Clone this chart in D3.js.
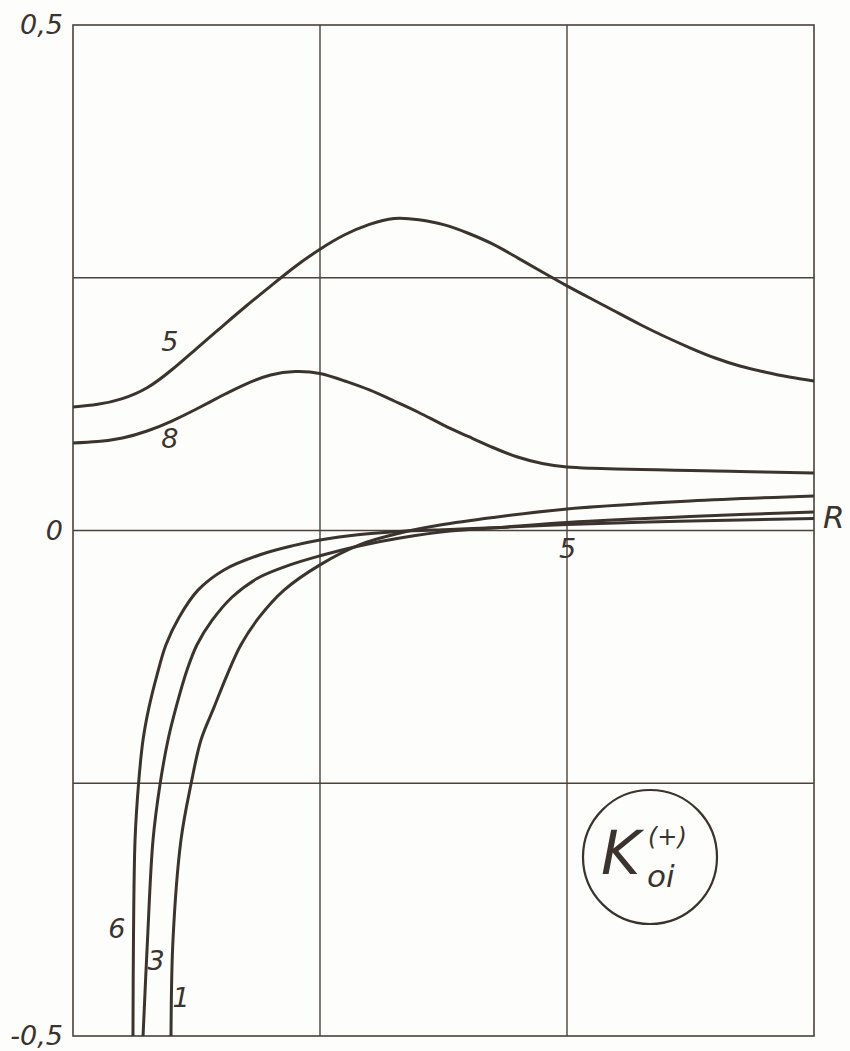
<!DOCTYPE html>
<html>
<head>
<meta charset="utf-8">
<script src="https://cdn.jsdelivr.net/npm/d3@7"></script>
<style>
  html, body { margin: 0; padding: 0; background: #fdfdfb; }
  svg { display: block; }
  text { font-family: "DejaVu Sans", sans-serif; font-style: italic; fill: #3b332d; }
</style>
</head>
<body>
<svg id="chart" width="850" height="1051"></svg>
<script>
// ---- data ----
const yTickValues = [-0.5, 0, 0.5];
const yTickLabels = ["-0,5", "0", "0,5"];
const xTickValues = [5];
const xTickLabels = ["5"];
const xGrid = [2.5, 5];
const yGrid = [-0.25, 0, 0.25];

// curves 5 and 8 share R sampling
const r58 = [0, 0.25, 0.5, 0.75, 1.0, 1.25, 1.5, 1.75, 2.0, 2.25, 2.5, 2.75, 3.0, 3.25, 3.5, 3.75,
             4.0, 4.25, 4.5, 4.75, 5.0, 5.25, 5.5, 5.75, 6.0, 6.25, 6.5, 6.75, 7.0, 7.25, 7.5];
const k5 = [0.1222, 0.1248, 0.1305, 0.1412, 0.1590, 0.1800, 0.2010, 0.2218, 0.2418, 0.2612, 0.2782,
            0.2925, 0.3028, 0.3087, 0.3074, 0.3025, 0.2940, 0.2832, 0.2697, 0.2557, 0.2420, 0.2290,
            0.2161, 0.2033, 0.1914, 0.1805, 0.1706, 0.1627, 0.1568, 0.1518, 0.1479];
const k8 = [0.0865, 0.0880, 0.0915, 0.0984, 0.1083, 0.1202, 0.1330, 0.1449, 0.1538, 0.1573, 0.1553,
            0.1479, 0.1390, 0.1281, 0.1167, 0.1043, 0.0930, 0.0821, 0.0727, 0.0663, 0.0628, 0.0616,
            0.0608, 0.0603, 0.0598, 0.0593, 0.0589, 0.0584, 0.0579, 0.0574, 0.0569];

const r6 = [0.607, 0.612, 0.628, 0.663, 0.709, 0.769, 0.850, 0.941, 1.073, 1.265, 1.528, 1.893, 2.227,
            2.5, 2.905, 3.310, 3.816, 4.322, 5.0, 6.245, 7.5];
const k6 = [-0.5, -0.405, -0.306, -0.251, -0.207, -0.175, -0.143, -0.113, -0.086, -0.059, -0.039, -0.024,
            -0.015, -0.0094, -0.0040, -0.0010, 0.0010, 0.0030, 0.0059, 0.0094, 0.0119];

const r3 = [0.709, 0.754, 0.810, 0.881, 0.962, 1.043, 1.154, 1.255, 1.407, 1.609, 1.872, 2.196, 2.5,
            2.905, 3.310, 3.816, 4.322, 5.0, 6.245, 7.5];
const k3 = [-0.5, -0.405, -0.306, -0.251, -0.207, -0.175, -0.138, -0.113, -0.089, -0.066, -0.047, -0.034,
            -0.025, -0.015, -0.0074, -0.0005, 0.0030, 0.0079, 0.0138, 0.0183];

const r1 = [0.992, 1.012, 1.093, 1.194, 1.296, 1.427, 1.559, 1.700, 1.883, 2.136, 2.5, 2.905, 3.310,
            3.715, 4.251, 5.0, 6.245, 7.5];
const k1 = [-0.5, -0.405, -0.306, -0.251, -0.207, -0.175, -0.143, -0.113, -0.086, -0.059, -0.034, -0.014,
            -0.0025, 0.0054, 0.0129, 0.0213, 0.0292, 0.0341];

const curveNames = ["5", "8", "6", "3", "1"];
const labelR = [0.98, 0.98, 0.445, 0.84, 1.093];
const labelK = [0.1775, 0.0816, -0.403, -0.435, -0.471];

// ---- layout ----
const svg = d3.select("#chart");
const mLeft = 73, mRight = 814, mTop = 25, mBottom = 1036;
const x = d3.scaleLinear().domain([0, 7.5]).range([mLeft, mRight]);
const y = d3.scaleLinear().domain([-0.5, 0.5]).range([mBottom, mTop]);
const ink = "#3b332d";
const gridInk = "#4a423b";

svg.append("rect").attr("width", 850).attr("height", 1051).attr("fill", "#fdfdfb");

svg.append("defs").append("clipPath").attr("id", "clip")
  .append("rect").attr("x", mLeft).attr("y", mTop).attr("width", mRight - mLeft).attr("height", mBottom - mTop);

// grid
svg.append("g").selectAll("line").data(xGrid).join("line")
  .attr("x1", d => x(d)).attr("x2", d => x(d)).attr("y1", mTop).attr("y2", mBottom)
  .attr("stroke", gridInk).attr("stroke-width", 1.4);
svg.append("g").selectAll("line").data(yGrid).join("line")
  .attr("x1", mLeft).attr("x2", mRight).attr("y1", d => y(d)).attr("y2", d => y(d))
  .attr("stroke", gridInk).attr("stroke-width", 1.4);

// frame
svg.append("rect").attr("x", mLeft).attr("y", mTop).attr("width", mRight - mLeft).attr("height", mBottom - mTop)
  .attr("fill", "none").attr("stroke", gridInk).attr("stroke-width", 1.6);

// axes (labels only)
const yAxis = svg.append("g").attr("transform", `translate(${mLeft},0)`)
  .call(d3.axisLeft(y).tickValues(yTickValues).tickSize(0).tickPadding(10)
    .tickFormat((d, i) => yTickLabels[i]));
yAxis.select(".domain").remove();
yAxis.selectAll("text").attr("font-size", 27).attr("fill", ink)
  .style("font-family", '"DejaVu Sans", sans-serif').style("font-style", "italic");

const xAxis = svg.append("g").attr("transform", `translate(0,${y(0)})`)
  .call(d3.axisBottom(x).tickValues(xTickValues).tickSize(0).tickPadding(8)
    .tickFormat((d, i) => xTickLabels[i]));
xAxis.select(".domain").remove();
xAxis.selectAll("text").attr("font-size", 27).attr("fill", ink)
  .style("font-family", '"DejaVu Sans", sans-serif').style("font-style", "italic");

svg.append("text").attr("x", mRight + 9).attr("y", y(0) - 3).attr("font-size", 31).text("R");

// curves
const smoothLine = d3.line().x(d => x(d[0])).y(d => y(d[1])).curve(d3.curveNatural);
const steepLine = d3.line().x(d => x(d[0])).y(d => y(d[1])).curve(d3.curveCatmullRom.alpha(0.5));
const series = [[r58, k5, smoothLine], [r58, k8, smoothLine], [r6, k6, steepLine], [r3, k3, steepLine], [r1, k1, steepLine]];
const g = svg.append("g").attr("clip-path", "url(#clip)");
series.forEach(([rs, ks, gen], i) => {
  g.append("path").datum(rs.map((r, j) => [r, ks[j]]))
    .attr("d", gen).attr("fill", "none").attr("stroke", ink)
    .attr("stroke-width", 3).attr("stroke-linejoin", "round").attr("stroke-linecap", "round")
    .attr("data-name", curveNames[i]);
});

// curve labels
svg.append("g").selectAll("text").data(curveNames).join("text")
  .attr("x", (d, i) => x(labelR[i])).attr("y", (d, i) => y(labelK[i]))
  .attr("text-anchor", "middle").attr("font-size", 27).text(d => d);

// circle legend
svg.append("circle").attr("cx", 650).attr("cy", 857).attr("r", 67)
  .attr("fill", "none").attr("stroke", ink).attr("stroke-width", 2.2);
svg.append("text").attr("x", 601).attr("y", 874).attr("font-size", 60).text("K");
svg.append("text").attr("x", 648).attr("y", 845).attr("font-size", 24).text("(+)");
svg.append("text").attr("x", 647).attr("y", 887).attr("font-size", 31).text("oi");
</script>
</body>
</html>
